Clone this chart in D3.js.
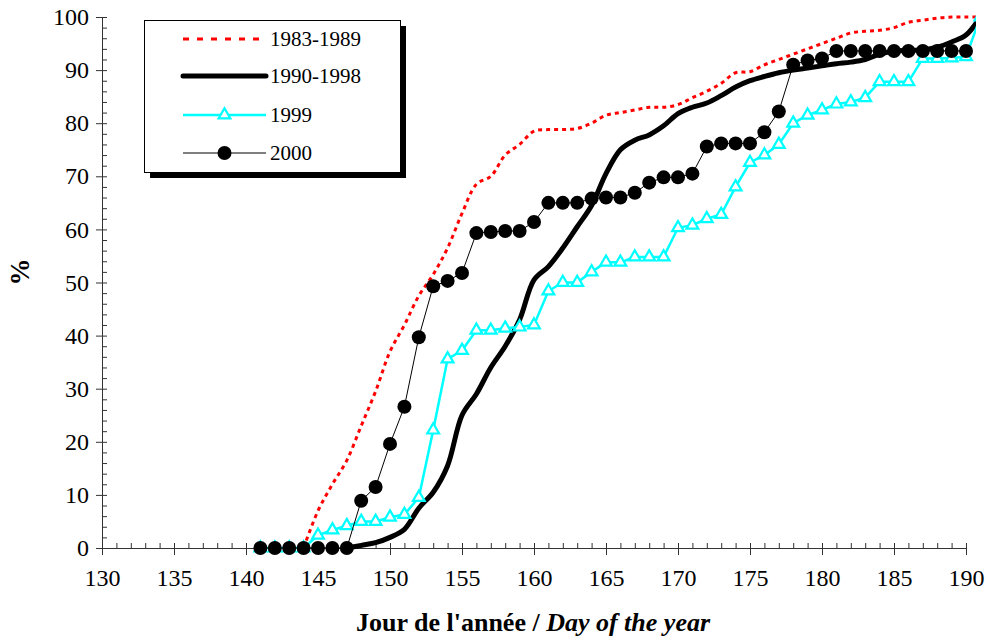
<!DOCTYPE html>
<html><head><meta charset="utf-8">
<script src="https://cdn.jsdelivr.net/npm/d3@7"></script>
<style>
body{margin:0;background:#fff}
svg{display:block}
text{font-family:"Liberation Serif","Times New Roman",serif;fill:#000}
</style>
</head><body>
<svg id="chart" width="988" height="640"></svg>
<script>
// ---- data ----
const days8389 = [144,145,146,147,148,149,150,151,152,153,154,155,156,157,158,159,160,161,162,163,164,165,166,167,168,169,170,171,172,173,174,175,176,177,178,179,180,181,182,183,184,185,186,187,188,189,190,191];
const vals8389 = [0,7,12,16.5,23,29.5,37,42,47.5,51.5,56.5,63,68.5,70,74,76,78.5,78.8,78.8,79,80,81.5,82,82.5,83,83,83.5,84.8,86,87.5,89.5,89.7,91,92,93,94,95,96,97,97.3,97.5,98,99,99.4,99.8,100,100,100];

const days9098 = [147,148,149,150,151,152,153,154,155,156,157,158,159,160,161,162,163,164,165,166,167,168,169,170,171,172,173,174,175,176,177,178,179,180,181,182,183,184,185,186,187,188,189,190,191];
const vals9098 = [0,0.5,1,2,3.5,7.5,10.5,15.5,25,29,34,38,43,50.5,53,56.5,60.5,64.5,70.5,75,76.8,77.8,79.5,81.8,83,83.8,85.2,86.8,88,88.8,89.5,90,90.4,90.8,91.2,91.5,92,93,93.6,93.7,93.8,94.3,95.3,96.6,100];

const days1999 = [141,142,143,144,145,146,147,148,149,150,151,152,153,154,155,156,157,158,159,160,161,162,163,164,165,166,167,168,169,170,171,172,173,174,175,176,177,178,179,180,181,182,183,184,185,186,187,188,189,190,191];
const vals1999 = [0,0,0,0,2.4,3.4,4.2,5,5,5.8,6.3,9.5,22.2,35.6,37.2,41,41,41.4,41.6,42,48.4,50,50,52,53.8,53.8,54.8,54.8,54.8,60.3,60.8,62,62.8,68,72.6,74,76,80,81.5,82.5,83.6,84,84.8,87.8,87.8,87.8,92.2,92.2,92.3,92.5,100];

const days2000 = [141,142,143,144,145,146,147,148,149,150,151,152,153,154,155,156,157,158,159,160,161,162,163,164,165,166,167,168,169,170,171,172,173,174,175,176,177,178,179,180,181,182,183,184,185,186,187,188,189,190];
const vals2000 = [0,0,0,0,0,0,0,8.9,11.5,19.6,26.6,39.7,49.3,50.3,51.8,59.3,59.5,59.7,59.7,61.4,65,65,65,65.8,66,66,66.9,68.8,69.8,69.8,70.5,75.6,76.2,76.2,76.2,78.3,82.2,91,91.8,92.2,93.6,93.6,93.6,93.6,93.6,93.6,93.6,93.6,93.6,93.6];

const seriesNames = ["1983-1989","1990-1998","1999","2000"];
const xTicks = [130,135,140,145,150,155,160,165,170,175,180,185,190];
const yTicks = [0,10,20,30,40,50,60,70,80,90,100];
const xTitleA = "Jour de l'année / ";
const xTitleB = "Day of the year";
const yTitle = "%";

// ---- layout ----
const svg = d3.select("#chart");
const x = d3.scaleLinear().domain([130,190]).range([102,966]);
const y = d3.scaleLinear().domain([0,100]).range([548,17]);
const clipRight = 976;

svg.append("defs").append("clipPath").attr("id","plotclip")
  .append("rect").attr("x",90).attr("y",0).attr("width",clipRight-90).attr("height",600);

const axisColor = "#333";
const yAx = svg.append("g").attr("transform",`translate(${x(130)},0)`);
yAx.call(d3.axisRight(y).tickValues(d3.range(0,101,2)).tickSize(5).tickFormat(""));
yAx.call(g=>g.select(".domain").remove());
yAx.selectAll("line").attr("stroke",axisColor);
const yAxMaj = svg.append("g").attr("transform",`translate(${x(130)},0)`);
yAxMaj.call(d3.axisLeft(y).tickValues(yTicks).tickSize(6).tickPadding(7).tickSizeOuter(0));
yAxMaj.select(".domain").attr("stroke",axisColor);
yAxMaj.selectAll("line").attr("stroke",axisColor);
yAxMaj.selectAll("text").attr("font-size",24).style("font-family","Liberation Serif");

const xAx = svg.append("g").attr("transform",`translate(0,${y(0)})`);
xAx.call(d3.axisTop(x).tickValues(d3.range(130,191,1)).tickSize(5).tickFormat(""));
xAx.call(g=>g.select(".domain").remove());
xAx.selectAll("line").attr("stroke",axisColor);
const xAxMaj = svg.append("g").attr("transform",`translate(0,${y(0)})`);
xAxMaj.call(d3.axisBottom(x).tickValues(xTicks).tickSize(7).tickPadding(14).tickSizeOuter(0));
xAxMaj.select(".domain").attr("stroke",axisColor).attr("d",`M${x(130)},0.5H${x(190)+1}`);
xAxMaj.selectAll("line").attr("stroke",axisColor);
xAxMaj.selectAll("text").attr("font-size",24).style("font-family","Liberation Serif");

svg.append("text").attr("transform",`translate(20,272) rotate(-90)`)
  .attr("text-anchor","middle").attr("dominant-baseline","central")
  .attr("font-size",27).attr("font-weight","bold").text(yTitle);
const xt = svg.append("text").attr("x",533).attr("y",631).attr("text-anchor","middle")
  .attr("font-size",26).attr("font-weight","bold");
xt.append("tspan").text(xTitleA);
xt.append("tspan").attr("font-style","italic").text(xTitleB);

const plot = svg.append("g").attr("clip-path","url(#plotclip)");
const zip = (d,v)=>d.map((dd,i)=>[dd,v[i]]);
const lineStraight = d3.line().x(d=>x(d[0])).y(d=>y(d[1]));
const lineSmooth = d3.line().x(d=>x(d[0])).y(d=>y(d[1])).curve(d3.curveCatmullRom.alpha(0.5));

plot.append("path").datum(zip(days8389,vals8389)).attr("d",lineSmooth)
  .attr("fill","none").attr("stroke","#ff0000").attr("stroke-width",3).attr("stroke-dasharray","4,4");

plot.append("path").datum(zip(days9098,vals9098)).attr("d",lineSmooth)
  .attr("fill","none").attr("stroke","#000").attr("stroke-width",5).attr("stroke-linejoin","round").attr("stroke-linecap","round");

const d99 = zip(days1999,vals1999);
plot.append("path").datum(d99).attr("d",lineStraight)
  .attr("fill","none").attr("stroke","#00ffff").attr("stroke-width",2.5);
const tri = d3.symbol().type(d3.symbolTriangle).size(60);
plot.selectAll(".t99").data(d99).join("path").attr("class","t99")
  .attr("transform",d=>`translate(${x(d[0])},${y(d[1])})`).attr("d",tri)
  .attr("fill","#fff").attr("stroke","#00ffff").attr("stroke-width",2.2);

const d00 = zip(days2000,vals2000);
plot.append("path").datum(d00).attr("d",lineStraight)
  .attr("fill","none").attr("stroke","#000").attr("stroke-width",1);
plot.selectAll(".c00").data(d00).join("circle").attr("class","c00")
  .attr("cx",d=>x(d[0])).attr("cy",d=>y(d[1])).attr("r",7).attr("fill","#000");

// legend
const lg = svg.append("g");
lg.append("rect").attr("x",150).attr("y",26).attr("width",256).attr("height",152).attr("fill","#000");
lg.append("rect").attr("x",144.5).attr("y",20.5).attr("width",256).attr("height",152).attr("fill","#fff").attr("stroke","#000").attr("stroke-width",1);
const rows = [39,76,115,153];
const lx1 = 183, lx2 = 266;
lg.append("line").attr("x1",lx1).attr("x2",lx2).attr("y1",rows[0]).attr("y2",rows[0])
  .attr("stroke","#ff0000").attr("stroke-width",3).attr("stroke-dasharray","6,8");
lg.append("line").attr("x1",lx1).attr("x2",lx2).attr("y1",rows[1]).attr("y2",rows[1])
  .attr("stroke","#000").attr("stroke-width",5).attr("stroke-linecap","round");
lg.append("line").attr("x1",lx1).attr("x2",lx2).attr("y1",rows[2]).attr("y2",rows[2])
  .attr("stroke","#00ffff").attr("stroke-width",2.5);
lg.append("path").attr("transform",`translate(${(lx1+lx2)/2},${rows[2]})`).attr("d",tri)
  .attr("fill","#fff").attr("stroke","#00ffff").attr("stroke-width",2.2);
lg.append("line").attr("x1",lx1).attr("x2",lx2).attr("y1",rows[3]).attr("y2",rows[3])
  .attr("stroke","#000").attr("stroke-width",1);
lg.append("circle").attr("cx",(lx1+lx2)/2).attr("cy",rows[3]).attr("r",7).attr("fill","#000");
seriesNames.forEach((n,i)=>{
  lg.append("text").attr("x",270).attr("y",rows[i]).attr("dominant-baseline","central")
    .attr("font-size",21).text(n);
});
</script>
</body></html>
